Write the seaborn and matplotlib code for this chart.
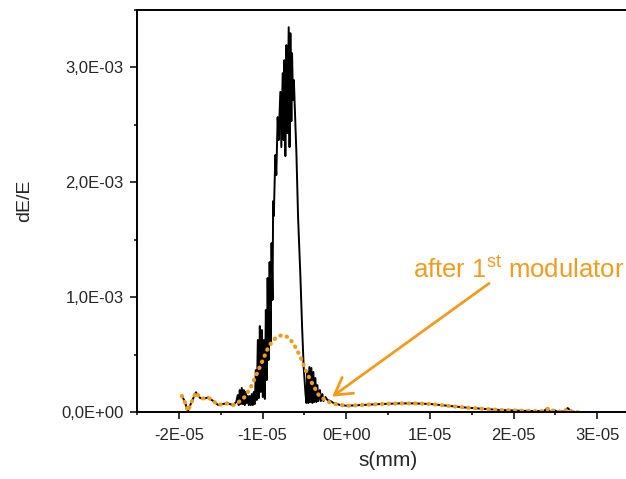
import matplotlib
matplotlib.use("Agg")
import numpy as np
import pandas as pd
import seaborn as sns
import matplotlib.pyplot as plt
from matplotlib.ticker import MultipleLocator

# black curve: s in 1e-6 mm, dE/E in 1e-3
black_s = [-19.64, -19.37, -18.92, -18.53, -17.96, -17.45, -16.97, -16.49, -15.89, -15.29, -14.81, -14.21, -13.50, -13.14,
           -12.96, -12.84, -12.72, -12.60, -12.48, -12.36, -12.24, -12.12, -12.00, -11.88, -11.76, -11.64, -11.52, -11.40,
           -11.28, -11.16, -11.04, -10.92,
           -10.80, -10.68, -10.56, -10.44, -10.32, -10.20, -10.08, -9.96, -9.84, -9.72, -9.60, -9.49, -9.39, -9.27, -9.15,
           -9.03, -8.92, -8.80, -8.73, -8.65,
           -8.47, -8.35, -8.19, -8.07, -7.87, -7.75, -7.59, -7.47, -7.39, -7.27, -7.15, -7.03, -6.87, -6.77, -6.67, -6.55,
           -6.47, -6.35, -6.25, -6.16, -5.95, -5.75, -5.47, -5.27, -5.08, -4.87, -4.75,
           -4.63, -4.52, -4.40, -4.28, -4.16, -4.04, -3.92, -3.80, -3.68, -3.56, -3.44, -3.32, -3.14, -3.02, -2.84, -2.72,
           -2.48, -2.24, -1.88, -1.52,
           -0.68, 0.12, 1.71, 4.11, 6.50, 8.06, 10.09, 11.29, 13.09, 14.49, 16.68, 18.48, 20.87, 22.43, 23.63, 24.07,
           24.35, 24.83, 25.19, 26.02, 26.47, 26.86, 27.34, 27.82]
black_de = [0.142, 0.107, 0.011, 0.081, 0.174, 0.124, 0.120, 0.129, 0.098, 0.063, 0.072, 0.078, 0.063, 0.090,
            0.150, 0.063, 0.194, 0.072, 0.212, 0.072, 0.194, 0.063, 0.177, 0.081, 0.142, 0.063, 0.142, 0.063,
            0.159, 0.063, 0.177, 0.072,
            0.368, 0.107, 0.629, 0.124, 0.750, 0.177, 0.716, 0.133, 0.629, 0.116, 0.890, 0.281, 1.168, 0.455, 1.307,
            0.603, 1.472, 0.977, 1.837, 1.707,
            2.238, 2.064, 2.568, 2.368, 2.787, 2.307, 2.950, 2.368, 3.063, 2.229, 3.194, 2.429, 3.350, 2.307, 3.298, 2.533,
            3.124, 2.716, 2.890, 2.690, 2.255, 1.698, 1.177, 0.742, 0.394, 0.168, 0.081,
            0.351, 0.081, 0.394, 0.090, 0.386, 0.081, 0.351, 0.090, 0.298, 0.090, 0.237, 0.098, 0.194, 0.098, 0.159, 0.098,
            0.133, 0.107, 0.098, 0.081,
            0.063, 0.057, 0.063, 0.072, 0.078, 0.078, 0.072, 0.063, 0.050, 0.040, 0.029, 0.020, 0.014, 0.011, 0.011, 0.037,
            0.003, 0.020, 0.007, 0.007, 0.037, 0.011, 0.003, 0.0]

# orange curve (after 1st modulator)
orange_s = [-19.64, -19.37, -18.92, -18.53, -17.96, -17.45, -16.97, -16.49, -15.89, -15.29, -14.81, -14.21, -13.50,
            -13.05, -12.26, -11.46, -10.66, -9.87, -9.46, -8.83, -8.17, -7.47, -6.79, -6.07, -5.47, -4.87, -4.07, -3.28,
            -2.28, -1.08,
            0.12, 1.71, 4.11, 6.50, 8.06, 10.09, 11.29, 13.09, 14.49, 16.68, 18.48, 20.87, 22.43, 23.63, 24.07, 24.35,
            24.83, 25.19, 26.02, 26.47, 26.86, 27.34, 27.82]
orange_de = [0.142, 0.107, 0.011, 0.081, 0.174, 0.124, 0.120, 0.129, 0.098, 0.063, 0.072, 0.078, 0.063,
             0.078, 0.122, 0.209, 0.339, 0.470, 0.542, 0.620, 0.663, 0.672, 0.646, 0.568, 0.483, 0.368, 0.252, 0.150,
             0.094, 0.068,
             0.057, 0.063, 0.072, 0.078, 0.078, 0.072, 0.063, 0.050, 0.040, 0.029, 0.020, 0.014, 0.011, 0.011, 0.030,
             0.005, 0.018, 0.007, 0.007, 0.030, 0.011, 0.003, 0.0]

xtick_vals = [-2e-5, -1e-5, 0.0, 1e-5, 2e-5, 3e-5]
xtick_labels = ["-2E-05", "-1E-05", "0E+00", "1E-05", "2E-05", "3E-05"]
ytick_vals = [0.0, 1e-3, 2e-3, 3e-3]
ytick_labels = ["0,0E+00", "1,0E-03", "2,0E-03", "3,0E-03"]

orange = "#f29b1f"

sns.set_style("ticks")
plt.rcParams["font.family"] = ["Liberation Sans", "DejaVu Sans"]
plt.rcParams["mathtext.fontset"] = "custom"
plt.rcParams["mathtext.rm"] = "Liberation Sans"

black = pd.DataFrame({"s": np.array(black_s) * 1e-6, "dE": np.array(black_de) * 1e-3})
after = pd.DataFrame({"s": np.array(orange_s) * 1e-6, "dE": np.array(orange_de) * 1e-3})

fig = plt.figure(figsize=(6.26, 4.79), dpi=100)
ax = fig.add_axes([137 / 626, 0.1392, 0.802, 0.840])

sns.lineplot(data=black, x="s", y="dE", color="black", lw=1.4, sort=False, estimator=None, ax=ax)
sns.lineplot(data=after, x="s", y="dE", color=orange, lw=3.0, linestyle=(0, (0.1, 1.5)),
             dash_capstyle="round", sort=False, estimator=None, ax=ax)

ax.set_xlim(-2.5e-5, 3.5e-5)
ax.set_ylim(0, 3.5e-3)
ax.set_xticks(xtick_vals, labels=xtick_labels)
ax.set_yticks(ytick_vals, labels=ytick_labels)
ax.xaxis.set_minor_locator(MultipleLocator(0.5e-5))
ax.yaxis.set_minor_locator(MultipleLocator(0.5e-3))
ax.tick_params(which="major", direction="out", length=5, width=1.1, labelsize=12, color="black")
ax.tick_params(which="minor", direction="out", length=2.5, width=1.1, color="black")
ax.tick_params(axis="x", pad=6)
ax.tick_params(axis="y", pad=4.5)
for sp in ax.spines.values():
    sp.set_linewidth(1.4)
    sp.set_color("black")

ax.set_xlabel("s(mm)", fontsize=15, labelpad=6)
ax.set_ylabel("dE/E", fontsize=14)
ax.yaxis.set_label_coords(-0.207, 0.525)

ax.text(20.63e-6, 1.168e-3, "after 1$^{\\mathrm{st}}$ modulator", color=orange, fontsize=18.5,
        ha="center", va="baseline")
ax.annotate("", xy=(-1.68e-6, 0.136e-3), xytext=(17.08e-6, 1.122e-3),
            arrowprops=dict(arrowstyle="->,head_length=0.6,head_width=0.35", color=orange, lw=2,
                            mutation_scale=20, shrinkA=0, shrinkB=0))

fig.savefig("out.png", dpi=100)
